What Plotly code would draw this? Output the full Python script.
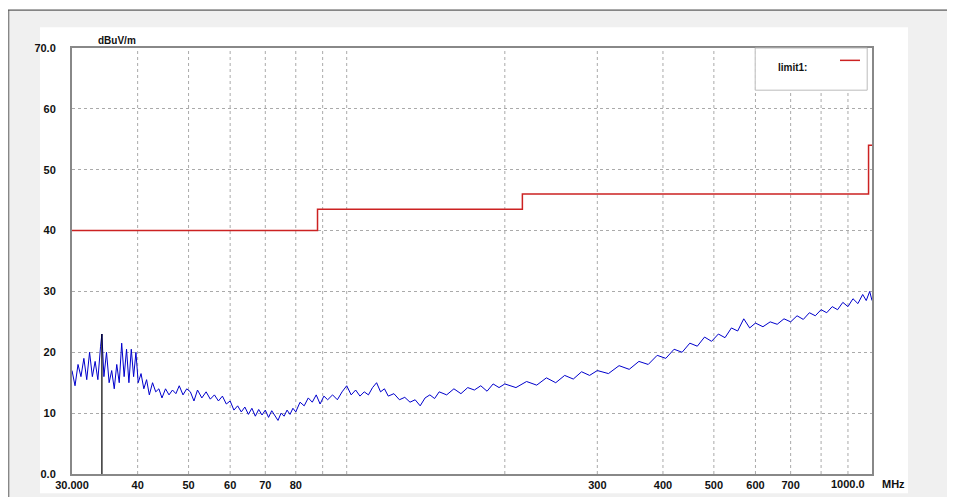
import plotly.graph_objects as go

# measured trace (MHz, dBuV/m)
freq = [30, 30.4, 30.8, 31.2, 31.6, 32, 32.4, 32.8, 33.2, 33.6, 34.0, 34.2, 34.5, 34.9, 35.3, 35.7,
        36.1, 36.5, 36.9, 37.3, 37.7, 38.1, 38.5, 38.9, 39.3, 39.7, 40.1, 40.6, 41.1, 41.6, 42.1,
        42.7, 43.3, 43.9, 44.5, 45.2, 45.9, 46.6, 47.3, 48, 48.8, 49.6, 50.4, 51.2, 52, 53, 54, 55,
        56, 57, 58, 59, 60, 61, 62, 63, 64, 65, 66, 67, 68, 69, 70, 71, 72, 73, 74, 75, 76, 77, 78,
        79, 80, 81.5, 83, 84.5, 86, 87.5, 89, 90.5, 92, 94, 96, 98, 100, 102, 104, 106, 108, 110,
        112, 114, 116, 118, 120, 123, 126, 129, 132, 135, 138, 141, 144, 147, 150, 155, 160, 165,
        170, 175, 180, 185, 190, 195, 200, 210, 220, 230, 240, 250, 260, 270, 280, 290, 300, 315,
        330, 345, 360, 375, 390, 405, 420, 435, 450, 465, 480, 495, 510, 525, 540, 555, 570, 585,
        600, 620, 640, 660, 680, 700, 720, 740, 760, 780, 800, 820, 840, 860, 880, 900, 920, 940,
        960, 975, 990, 1000]
level = [17, 14.5, 18, 16, 19, 15.5, 20, 16, 18.5, 15.5, 21, 23, 16, 20, 15, 17,
         14, 18, 15, 21.5, 16, 20.5, 15, 20.5, 16, 20, 15, 16.5, 14, 15.5, 13,
         15, 13.5, 14, 12.5, 14, 13, 13.8, 13.2, 14.5, 13, 14, 13.5, 12, 13.8, 12.5, 13.5, 12.3,
         13, 12, 12.8, 11.5, 12, 10.5, 11.2, 10.2, 11, 9.8, 10.8, 9.5, 10.6, 9.7, 10.5, 9.3, 10.4,
         9.6, 8.8, 10, 9.5, 10.5, 9.8, 10.8, 10.2, 11.8, 11.2, 12.5, 11.8, 13, 11.5, 12.8, 12.2, 13,
         12.2, 13.5, 14.5, 13, 13.8, 12.8, 13.5, 13, 14.2, 15, 13.5, 14, 12.8, 13.2, 12.2, 12.6,
         11.8, 12.2, 11.2, 12.5, 13, 12.4, 13.5, 13, 14, 13.2, 14.2, 13.8, 14.5, 13.6, 14.8, 14.2,
         14.8, 14.2, 15.2, 14.6, 15.8, 15, 16.2, 15.6, 16.8, 16.2, 17, 16.5, 17.8, 17.2, 18.5, 18,
         19.5, 19, 20.5, 20, 21.5, 21, 22.5, 21.8, 23, 22.4, 24, 23.5, 25.5, 24, 24.8, 24.2, 25,
         24.6, 25.5, 25, 26, 25.4, 26.5, 26, 27, 26.5, 27.5, 27, 28.2, 27.5, 28.8, 28, 29.5, 28.5,
         30, 28.5]

# limit1 step line
limit_f = [30, 88, 88, 216, 216, 985, 985, 1000]
limit_v = [40, 40, 43.5, 43.5, 46, 46, 54, 54]

marker_f = 34.2
marker_v = 23

x_grid = [40, 50, 60, 70, 80, 90, 100, 200, 300, 400, 500, 600, 700, 800, 900]
x_ticks = [30, 40, 50, 60, 70, 80, 300, 400, 500, 600, 700]
x_labels = ["30.000", "40", "50", "60", "70", "80", "300", "400", "500", "600", "700"]
y_ticks = [0, 10, 20, 30, 40, 50, 60, 70]
y_labels = ["0.0", "10", "20", "30", "40", "50", "60", "70.0"]

fnt = dict(family="Liberation Sans", size=11, color="#111", weight="bold")

fig = go.Figure()
fig.add_trace(go.Scatter(x=freq, y=level, mode="lines", line=dict(color="#0000cc", width=1),
                         showlegend=False))
fig.add_trace(go.Scatter(x=limit_f, y=limit_v, mode="lines", line=dict(color="#cc2222", width=1.5),
                         showlegend=False))
fig.add_trace(go.Scatter(x=[marker_f, marker_f], y=[0, marker_v], mode="lines",
                         line=dict(color="black", width=1.2), showlegend=False))

shapes = [
    dict(type="rect", xref="paper", yref="paper", x0=-0.078, x1=1.1, y0=-0.055, y1=1.088,
         fillcolor="#f0f0f0", line=dict(width=0), layer="below"),
    dict(type="rect", xref="paper", yref="paper", x0=-0.04, x1=1.045, y0=-0.045, y1=1.049,
         fillcolor="white", line=dict(width=0), layer="below"),
    dict(type="line", xref="paper", yref="paper", x0=-0.08, x1=1.1, y0=1.089, y1=1.089,
         line=dict(color="#333", width=1)),
    dict(type="line", xref="paper", yref="paper", x0=-0.079, x1=-0.079, y0=-0.06, y1=1.089,
         line=dict(color="#555", width=1)),
]
for g in x_grid:
    shapes.append(dict(type="line", xref="x", yref="paper", x0=g, x1=g, y0=0, y1=1,
                       line=dict(color="#aaa", width=1, dash="dot"), layer="below"))
# legend box
shapes.append(dict(type="rect", xref="paper", yref="paper", x0=0.854, x1=0.994, y0=0.901, y1=1,
                   fillcolor="white", line=dict(color="#bbb", width=1)))
shapes.append(dict(type="line", xref="paper", yref="paper", x0=0.96, x1=0.985, y0=0.971, y1=0.971,
                   line=dict(color="#cc2222", width=1.5)))

fig.update_layout(
    width=947, height=489,
    margin=dict(l=64, r=83, t=40, b=23, autoexpand=False),
    paper_bgcolor="white", plot_bgcolor="white",
    font=fnt,
    shapes=shapes,
    xaxis=dict(type="log", range=[1.4771, 3], tickvals=x_ticks, ticktext=x_labels,
               showgrid=False, zeroline=False, showline=True, linecolor="#888", linewidth=2,
               mirror=True, ticks="", tickfont=fnt, automargin=False),
    yaxis=dict(range=[0, 70], tickvals=y_ticks, ticktext=y_labels, showgrid=True,
               gridcolor="#aaa", griddash="dot", zeroline=False, showline=True,
               linecolor="#888", linewidth=2, mirror=True, ticks="", ticklabelstandoff=12,
               tickfont=fnt, automargin=False),
    annotations=[
        dict(text="dBuV/m", xref="paper", yref="paper", x=0.03, y=1.0, yanchor="bottom",
             showarrow=False, font=dict(fnt, size=10)),
        dict(text="1000.0", xref="x", yref="paper", x=2.954, y=0, yanchor="top",
             showarrow=False, font=fnt, yshift=-2),
        dict(text="MHz", xref="paper", yref="paper", x=1.027, y=0, yanchor="top",
             xanchor="center", showarrow=False, font=fnt, yshift=-2),
        dict(text="limit1:", xref="paper", yref="paper", x=0.88, y=0.971,
             xanchor="left", showarrow=False, font=dict(fnt, size=10)),
    ],
)

fig.write_html("out.html")
